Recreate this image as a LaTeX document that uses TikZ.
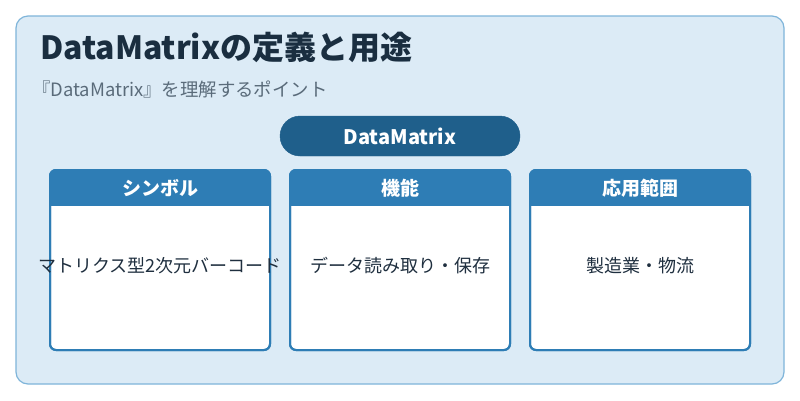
\documentclass[tikz,border=0pt]{standalone}
\usepackage{fontspec}
\setmainfont{Noto Sans CJK JP}
\definecolor{bgc}{HTML}{DCEBF6}
\definecolor{bdc}{HTML}{7FB5DA}
\definecolor{pill}{HTML}{1F5F8B}
\definecolor{hdr}{HTML}{2E7DB5}
\definecolor{ttl}{HTML}{1A2E40}
\definecolor{sub}{HTML}{5A6B7A}
\definecolor{txt}{HTML}{1F2F3F}
\begin{document}
\begin{tikzpicture}[x=1pt,y=-1pt,
  card/.style={draw=hdr,line width=2pt,fill=white,rounded corners=6pt},
  head/.style={font=\fontsize{19}{22}\selectfont\bfseries,text=white},
  body/.style={font=\fontsize{18}{21}\selectfont,text=txt}]
\useasboundingbox (0,0) rectangle (800,400);
\fill[white] (0,0) rectangle (800,400);
\draw[fill=bgc,draw=bdc,line width=1.2pt,rounded corners=12pt] (16,16) rectangle (784,384);
\node[anchor=west,inner sep=0pt,text=ttl,font=\fontsize{32}{36}\selectfont\bfseries] (title) at (40,47) {DataMatrixの定義と用途};
\node[anchor=west,inner sep=0pt,text=sub,font=\fontsize{18.4}{21}\selectfont] (subt) at (32,89) {『DataMatrix』を理解するポイント};
\draw[fill=pill,draw=pill,rounded corners=20pt] (280,116) rectangle (520,156);
\node[head,font=\fontsize{20}{23}\selectfont\bfseries] (dm) at (400,136) {DataMatrix};
\foreach \x/\h/\b/\n in {50/シンボル/マトリクス型2次元バーコード/a,290/機能/データ読み取り・保存/b,530/応用範囲/製造業・物流/c}{
  \draw[card] (\x,170) rectangle (\x+220,350);
  \begin{scope}
  \clip[rounded corners=6pt] (\x,170) rectangle (\x+220,350);
  \fill[hdr] (\x,170) rectangle (\x+220,206);
  \end{scope}
  \draw[hdr,line width=2pt,rounded corners=6pt] (\x,170) rectangle (\x+220,350);
  \node[head] (h\n) at (\x+110,188) {\h};
  \node[body] (b\n) at (\x+110,266) {\b};
}
\end{tikzpicture}
\end{document}
